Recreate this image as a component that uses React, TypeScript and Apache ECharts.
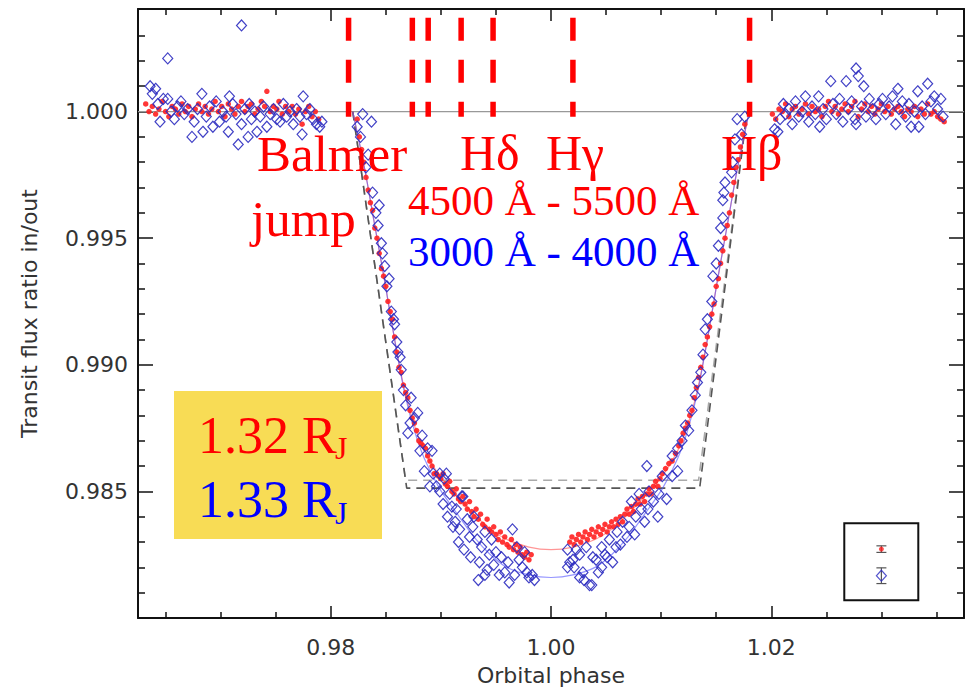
import React, { useEffect, useRef } from 'react';
import * as echarts from 'echarts';

// ---------- axes ----------
const X_MIN = 0.9625;
const X_MAX = 1.0375;
const Y_MIN = 0.98;
const Y_MAX = 1.00405;
const xMajorTicks = [0.98, 1.0, 1.02];
const xMinorTicks = [0.965, 0.97, 0.975, 0.985, 0.99, 0.995, 1.005, 1.01, 1.015, 1.025, 1.03, 1.035];
const yMajorTicks = [0.985, 0.99, 0.995, 1.0];
const yMinorTicks = [0.981, 0.982, 0.983, 0.984, 0.986, 0.987, 0.988, 0.989, 0.991, 0.992, 0.993, 0.994, 0.996, 0.997, 0.998, 0.999, 1.001, 1.002, 1.003];

// ---------- red data (4500-5500 A) ----------
const redLeft: [number, number][] = [
  [0.9632, 1.0003], [0.9635, 1.0000], [0.9638, 1.0002], [0.9641, 0.9999], [0.9644, 1.0001], [0.9647, 1.0004],
  [0.9650, 1.0000], [0.9653, 0.9998], [0.9656, 1.0002], [0.9659, 1.0001], [0.9662, 0.9999], [0.9665, 1.0003],
  [0.9668, 1.0000], [0.9671, 1.0002], [0.9674, 0.9998], [0.9677, 1.0001], [0.9680, 1.0003], [0.9683, 1.0000],
  [0.9686, 1.0002], [0.9689, 0.9999], [0.9692, 1.0001], [0.9695, 1.0004], [0.9698, 1.0000], [0.9701, 1.0002],
  [0.9704, 0.9998], [0.9707, 1.0003], [0.9710, 1.0001], [0.9713, 0.9999], [0.9716, 1.0002], [0.9719, 1.0004],
  [0.9722, 1.0000], [0.9725, 1.0002], [0.9728, 1.0003], [0.9731, 0.9999], [0.9734, 1.0001], [0.9737, 1.0004],
  [0.9740, 1.0002], [0.9742, 1.0008], [0.9745, 1.0000], [0.9748, 1.0002], [0.9751, 1.0001], [0.9753, 1.0004],
  [0.9756, 0.9999], [0.9759, 1.0002], [0.9762, 1.0000], [0.9765, 1.0002], [0.9768, 0.9999], [0.9771, 1.0001],
  [0.9774, 0.9995], [0.9777, 1.0000], [0.9780, 1.0002], [0.9783, 0.9998], [0.9786, 1.0000], [0.9789, 0.9997],
];
const redIngress: [number, number][] = [
  [0.9824, 0.9997], [0.9826, 0.9990], [0.9828, 0.9985], [0.9830, 0.9980], [0.9832, 0.9974], [0.9834, 0.9969],
  [0.9836, 0.9964], [0.9838, 0.9961], [0.9840, 0.9954], [0.9842, 0.9950], [0.9844, 0.9944], [0.9846, 0.9938],
  [0.9848, 0.9935], [0.9850, 0.9931], [0.9852, 0.9925], [0.9854, 0.9921], [0.9856, 0.9918], [0.9858, 0.9911],
  [0.9860, 0.9905], [0.9862, 0.9899], [0.9864, 0.9897], [0.9866, 0.9892], [0.9868, 0.9889], [0.9870, 0.9887],
  [0.9872, 0.9882], [0.9874, 0.9879], [0.9876, 0.9877], [0.9878, 0.9874], [0.9880, 0.9870], [0.9882, 0.9869],
  [0.9884, 0.9868], [0.9886, 0.9867], [0.9888, 0.9864], [0.9890, 0.9862], [0.9892, 0.9860], [0.9894, 0.9857],
  [0.9896, 0.9857], [0.9898, 0.9856],
];
const redBottomLeft: [number, number][] = [
  [0.9900, 0.9855], [0.9902, 0.9857], [0.9904, 0.9853], [0.9906, 0.9852], [0.9908, 0.9854], [0.9910, 0.9850],
  [0.9912, 0.9849], [0.9914, 0.9851], [0.9916, 0.9847], [0.9918, 0.9846], [0.9920, 0.9848], [0.9922, 0.9845],
  [0.9924, 0.9843], [0.9926, 0.9846], [0.9928, 0.9842], [0.9930, 0.9840], [0.9932, 0.9843], [0.9934, 0.9839],
  [0.9936, 0.9841], [0.9938, 0.9837], [0.9940, 0.9836], [0.9942, 0.9839], [0.9944, 0.9835], [0.9946, 0.9834],
  [0.9948, 0.9836], [0.9950, 0.9833], [0.9952, 0.9831], [0.9954, 0.9834], [0.9956, 0.9830], [0.9958, 0.9832],
  [0.9960, 0.9829], [0.9962, 0.9828], [0.9964, 0.9831], [0.9966, 0.9827], [0.9968, 0.9829], [0.9970, 0.9826],
  [0.9972, 0.9828], [0.9974, 0.9825], [0.9976, 0.9824], [0.9978, 0.9826], [0.9980, 0.9823], [0.9982, 0.9825],
];
const redBottomRight: [number, number][] = [
  [1.0017, 0.9830], [1.0019, 0.9832], [1.0021, 0.9829], [1.0023, 0.9831], [1.0025, 0.9833], [1.0027, 0.9830],
  [1.0029, 0.9832], [1.0031, 0.9834], [1.0033, 0.9831], [1.0035, 0.9833], [1.0037, 0.9835], [1.0039, 0.9832],
  [1.0041, 0.9834], [1.0043, 0.9836], [1.0045, 0.9833], [1.0047, 0.9835], [1.0049, 0.9837], [1.0051, 0.9834],
  [1.0053, 0.9836], [1.0055, 0.9838], [1.0057, 0.9836], [1.0059, 0.9839], [1.0061, 0.9837], [1.0063, 0.9840],
  [1.0065, 0.9838], [1.0067, 0.9841], [1.0069, 0.9843], [1.0071, 0.9841], [1.0073, 0.9844], [1.0075, 0.9842],
  [1.0077, 0.9845], [1.0079, 0.9847], [1.0081, 0.9845], [1.0083, 0.9848], [1.0085, 0.9846], [1.0087, 0.9849],
  [1.0089, 0.9851], [1.0091, 0.9849], [1.0093, 0.9852], [1.0095, 0.9854], [1.0097, 0.9852], [1.0099, 0.9855],
];
const redEgress: [number, number][] = [
  [1.0101, 0.9857], [1.0104, 0.9859], [1.0107, 0.9861], [1.0110, 0.9862], [1.0113, 0.9865], [1.0116, 0.9868],
  [1.0118, 0.9870], [1.0120, 0.9873], [1.0122, 0.9875], [1.0124, 0.9877], [1.0126, 0.9880], [1.0128, 0.9882],
  [1.0130, 0.9887], [1.0132, 0.9891], [1.0134, 0.9895], [1.0136, 0.9899], [1.0138, 0.9903], [1.0140, 0.9908],
  [1.0142, 0.9911], [1.0144, 0.9915], [1.0146, 0.9920], [1.0148, 0.9924], [1.0150, 0.9931], [1.0152, 0.9934],
  [1.0154, 0.9940], [1.0156, 0.9945], [1.0158, 0.9950], [1.0160, 0.9955], [1.0162, 0.9960], [1.0164, 0.9967],
  [1.0166, 0.9972], [1.0168, 0.9978], [1.0170, 0.9981], [1.0172, 0.9986], [1.0174, 0.9991], [1.0176, 0.9995],
];
const redRight: [number, number][] = [
  [1.0201, 0.9999], [1.0204, 0.9997], [1.0207, 1.0001], [1.0210, 1.0000], [1.0213, 1.0003], [1.0216, 0.9998],
  [1.0219, 1.0001], [1.0222, 1.0002], [1.0225, 0.9999], [1.0228, 1.0001], [1.0231, 1.0003], [1.0234, 0.9999],
  [1.0237, 1.0002], [1.0240, 1.0000], [1.0243, 1.0001], [1.0246, 0.9998], [1.0249, 1.0002], [1.0252, 1.0004],
  [1.0255, 1.0000], [1.0258, 1.0002], [1.0261, 0.9999], [1.0264, 1.0001], [1.0267, 1.0003], [1.0270, 1.0000],
  [1.0273, 1.0002], [1.0276, 1.0004], [1.0279, 0.9998], [1.0282, 1.0001], [1.0285, 1.0003], [1.0288, 1.0000],
  [1.0291, 1.0002], [1.0294, 0.9999], [1.0297, 1.0001], [1.0300, 1.0003], [1.0303, 1.0000], [1.0306, 1.0002],
  [1.0309, 0.9999], [1.0312, 1.0001], [1.0315, 1.0002], [1.0318, 1.0000], [1.0321, 0.9998], [1.0324, 1.0001],
  [1.0327, 1.0000], [1.0330, 1.0002], [1.0333, 0.9998], [1.0336, 1.0001], [1.0339, 0.9999], [1.0342, 1.0003],
  [1.0345, 0.9999], [1.0348, 1.0000], [1.0351, 0.9998], [1.0354, 0.9997], [1.0357, 0.9996],
];

// ---------- blue data (3000-4000 A) ----------
const blueLeft: [number, number][] = [
  [0.9636, 1.0010], [0.9638, 1.0007], [0.9641, 1.0009], [0.9643, 1.0003], [0.9645, 0.9996], [0.9648, 1.0005],
  [0.9652, 1.0021], [0.9652, 1.0005], [0.9655, 1.0000], [0.9658, 0.9997], [0.9661, 1.0002], [0.9664, 1.0004],
  [0.9667, 0.9999], [0.9670, 1.0001], [0.9674, 0.9990], [0.9676, 0.9996], [0.9679, 1.0001], [0.9683, 1.0007],
  [0.9684, 0.9992], [0.9687, 0.9998], [0.9690, 1.0002], [0.9693, 0.9994], [0.9696, 1.0004], [0.9699, 0.9996],
  [0.9702, 1.0000], [0.9705, 0.9998], [0.9707, 0.9992], [0.9708, 1.0006], [0.9711, 1.0003], [0.9714, 0.9999],
  [0.9716, 0.9987], [0.9719, 1.0034], [0.9719, 0.9995], [0.9722, 1.0001], [0.9725, 0.9990], [0.9726, 1.0003],
  [0.9728, 0.9997], [0.9731, 1.0000], [0.9733, 0.9992], [0.9736, 0.9998], [0.9739, 1.0002], [0.9742, 0.9994],
  [0.9745, 0.9999], [0.9748, 1.0001], [0.9751, 0.9997], [0.9754, 0.9996], [0.9757, 1.0003], [0.9760, 0.9998],
  [0.9763, 1.0000], [0.9766, 0.9995], [0.9769, 1.0001], [0.9772, 0.9998], [0.9774, 0.9991], [0.9775, 1.0006],
  [0.9778, 0.9999], [0.9781, 1.0001], [0.9784, 0.9997], [0.9787, 0.9995], [0.9790, 0.9994], [0.9792, 0.9996],
];
const blueIngress: [number, number][] = [
  [0.9824, 0.9994], [0.9829, 0.9999], [0.9837, 0.9996], [0.9827, 0.9990], [0.9832, 0.9978], [0.9834, 0.9983],
  [0.9838, 0.9968], [0.9844, 0.9963], [0.9841, 0.9960], [0.9843, 0.9955], [0.9846, 0.9948], [0.9847, 0.9944],
  [0.9849, 0.9939], [0.9853, 0.9934], [0.9851, 0.9931], [0.9855, 0.9921], [0.9858, 0.9916], [0.9857, 0.9918],
  [0.9860, 0.9909], [0.9861, 0.9905], [0.9863, 0.9903], [0.9864, 0.9898], [0.9866, 0.9890], [0.9868, 0.9884],
  [0.9873, 0.9887], [0.9876, 0.9879], [0.9879, 0.9881], [0.9872, 0.9877], [0.9870, 0.9873], [0.9883, 0.9872],
  [0.9888, 0.9867], [0.9881, 0.9866], [0.9892, 0.9866], [0.9885, 0.9858], [0.9893, 0.9857], [0.9890, 0.9852],
  [0.9899, 0.9857], [0.9905, 0.9857], [0.9899, 0.9850], [0.9908, 0.9849], [0.9919, 0.9848],
];
const blueBottomLeft: [number, number][] = [
  [0.9896, 0.9852], [0.9903, 0.9855], [0.9902, 0.9845], [0.9910, 0.9844], [0.9914, 0.9843], [0.9920, 0.9848],
  [0.9911, 0.9836], [0.9917, 0.9835], [0.9924, 0.9839], [0.9926, 0.9832], [0.9929, 0.9836], [0.9933, 0.9831],
  [0.9937, 0.9828], [0.9944, 0.9825], [0.9946, 0.9831], [0.9950, 0.9826], [0.9953, 0.9817], [0.9958, 0.9818],
  [0.9965, 0.9835], [0.9967, 0.9817], [0.9969, 0.9828], [0.9971, 0.9823], [0.9974, 0.9820], [0.9978, 0.9818],
  [0.9980, 0.9816], [0.9930, 0.9840], [0.9940, 0.9834], [0.9935, 0.9822], [0.9942, 0.9819], [0.9948, 0.9821],
  [0.9955, 0.9824], [0.9961, 0.9822], [0.9962, 0.9814], [0.9976, 0.9826], [0.9983, 0.9817], [0.9985, 0.9815],
  [0.9921, 0.9827], [0.9927, 0.9824], [0.9916, 0.9830], [0.9906, 0.9840], [0.9913, 0.9838], [0.9934, 0.9815],
  [0.9940, 0.9817],
];
const blueBottomRight: [number, number][] = [
  [1.0015, 0.9827], [1.0017, 0.9822], [1.0015, 0.9820], [1.0021, 0.9820], [1.0023, 0.9827], [1.0026, 0.9825],
  [1.0026, 0.9816], [1.0029, 0.9818], [1.0030, 0.9815], [1.0032, 0.9828], [1.0035, 0.9813], [1.0037, 0.9813],
  [1.0038, 0.9824], [1.0041, 0.9823], [1.0046, 0.9820], [1.0046, 0.9828], [1.0049, 0.9825], [1.0051, 0.9824],
  [1.0053, 0.9831], [1.0059, 0.9828], [1.0060, 0.9834], [1.0065, 0.9838], [1.0069, 0.9832], [1.0073, 0.9846],
  [1.0076, 0.9833], [1.0077, 0.9840], [1.0080, 0.9849], [1.0085, 0.9838], [1.0087, 0.9860], [1.0088, 0.9843],
  [1.0089, 0.9850], [1.0097, 0.9840], [1.0098, 0.9849], [1.0101, 0.9856], [1.0105, 0.9847], [1.0110, 0.9856],
  [1.0115, 0.9858], [1.0043, 0.9818], [1.0056, 0.9822], [1.0063, 0.9829], [1.0071, 0.9836], [1.0082, 0.9843],
  [1.0093, 0.9846], [1.0020, 0.9823],
];
const blueEgress: [number, number][] = [
  [1.0110, 0.9864], [1.0115, 0.9867], [1.0119, 0.9870], [1.0122, 0.9876], [1.0125, 0.9874], [1.0128, 0.9882],
  [1.0131, 0.9888], [1.0133, 0.9893], [1.0136, 0.9897], [1.0138, 0.9904], [1.0140, 0.9914], [1.0142, 0.9918],
  [1.0146, 0.9925], [1.0147, 0.9935], [1.0150, 0.9940], [1.0152, 0.9947], [1.0154, 0.9954], [1.0156, 0.9958],
  [1.0156, 0.9965], [1.0157, 0.9968], [1.0158, 0.9972], [1.0164, 0.9976], [1.0165, 0.9980], [1.0167, 0.9989],
  [1.0169, 0.9997], [1.0173, 0.9991], [1.0176, 0.9998],
];
const blueRight: [number, number][] = [
  [1.0203, 0.9993], [1.0206, 0.9992], [1.0208, 0.9997], [1.0211, 1.0003], [1.0213, 0.9999], [1.0216, 1.0001],
  [1.0219, 0.9995], [1.0222, 1.0004], [1.0225, 0.9998], [1.0228, 1.0000], [1.0231, 1.0006], [1.0234, 0.9996],
  [1.0237, 1.0002], [1.0240, 0.9999], [1.0243, 1.0006], [1.0244, 0.9994], [1.0247, 1.0001], [1.0250, 0.9997],
  [1.0254, 1.0012], [1.0256, 1.0003], [1.0259, 0.9999], [1.0262, 1.0005], [1.0265, 0.9996], [1.0268, 1.0012],
  [1.0270, 1.0001], [1.0273, 1.0004], [1.0276, 0.9997], [1.0277, 1.0017], [1.0279, 1.0014], [1.0277, 0.9995],
  [1.0282, 1.0002], [1.0284, 1.0010], [1.0286, 0.9998], [1.0289, 1.0005], [1.0292, 1.0001], [1.0295, 0.9997],
  [1.0298, 1.0003], [1.0301, 1.0005], [1.0304, 0.9999], [1.0307, 1.0002], [1.0310, 1.0006], [1.0313, 0.9995],
  [1.0315, 1.0009], [1.0316, 1.0001], [1.0319, 1.0004], [1.0322, 0.9998], [1.0325, 1.0003], [1.0327, 0.9994],
  [1.0330, 1.0000], [1.0333, 1.0008], [1.0334, 0.9994], [1.0337, 1.0002], [1.0340, 0.9999], [1.0342, 1.0011],
  [1.0345, 1.0004], [1.0348, 1.0006], [1.0351, 1.0001], [1.0354, 1.0005], [1.0356, 0.9998],
];

// ---------- fitted transit curves ----------
const fitX = [0.9820, 0.9831, 0.9840, 0.9849, 0.9858, 0.9867, 0.9876, 0.9885, 0.9899, 0.9915, 0.9930, 0.9945, 0.9960, 0.9980,
  1.0000, 1.0020, 1.0040, 1.0055, 1.0070, 1.0085, 1.0101, 1.0115, 1.0124, 1.0133, 1.0142, 1.0151, 1.0160, 1.0169, 1.0180];
const redFitY = [1.0000, 0.9977, 0.9955, 0.9933, 0.9910, 0.9890, 0.9876, 0.9866, 0.9856, 0.9848, 0.9841, 0.9835, 0.9831, 0.9828,
  0.9827, 0.9828, 0.9831, 0.9835, 0.9841, 0.9848, 0.9856, 0.9866, 0.9876, 0.9890, 0.9910, 0.9933, 0.9955, 0.9977, 1.0000];
const blueFitY = [1.0000, 0.9977, 0.9955, 0.9933, 0.9910, 0.9889, 0.9874, 0.9863, 0.9851, 0.9841, 0.9832, 0.9825, 0.9820, 0.9817,
  0.9816, 0.9817, 0.9820, 0.9825, 0.9832, 0.9841, 0.9851, 0.9863, 0.9874, 0.9889, 0.9910, 0.9933, 0.9955, 0.9977, 1.0000];

// ---------- opaque-planet models (dashed) ----------
const modelDarkX = [0.9820, 0.9869, 1.0135, 1.0178];
const modelDarkY = [1.0000, 0.98513, 0.98513, 1.0000];
const modelLightX = [0.9820, 0.9868, 1.0134, 1.0178];
const modelLightY = [1.0000, 0.98544, 0.98544, 1.0000];
const baselineY = 1.0;

// ---------- line markers (Balmer jump, H lines) ----------
const markerX = [0.98162, 0.98741, 0.98885, 0.99184, 0.99474, 1.00199, 1.01803];
const markerTop = 1.0037;
const markerBottom = 0.99979;

// ---------- inset: typical error bars ----------
const insetBox = [1.02663, 0.9807, 1.03335, 0.98374];
const errX = [1.03, 1.03];
const errY = [0.98272, 0.98167];
const errSize = [0.00013, 0.00031];

const zip = (xs: number[], ys: number[]) => xs.map((x, i) => [x, ys[i]]);

const AXIS_COLOR = '#111';
const LABEL_FONT = 'DejaVu Sans';
const SERIF = '"Liberation Serif", "DejaVu Serif", serif';
const BLUE_EDGE = '#2c2cc0';

function tickAxis(kind: 'x' | 'y', position: string, ticks: number[], length: number, line: boolean, labels: boolean) {
  const isX = kind === 'x';
  const a: any = {
    type: 'value',
    position,
    min: isX ? X_MIN : Y_MIN,
    max: isX ? X_MAX : Y_MAX,
    splitLine: { show: false },
    axisLine: { show: line, onZero: false, lineStyle: { color: AXIS_COLOR, width: 2 } },
    axisTick: { show: true, inside: true, length, customValues: ticks, lineStyle: { color: AXIS_COLOR, width: 1.5 } },
    axisLabel: { show: false },
  };
  if (labels) {
    a.axisLabel = {
      show: true,
      customValues: ticks,
      formatter: (v: number) => (isX ? v.toFixed(2) : v.toFixed(3)),
      margin: isX ? 18 : 10,
      fontSize: 22,
      fontFamily: LABEL_FONT,
      color: '#333',
    };
    a.name = isX ? 'Orbital phase' : 'Transit flux ratio in/out';
    a.nameLocation = 'middle';
    a.nameGap = isX ? 46 : 98;
    a.nameTextStyle = { fontSize: 22, fontFamily: LABEL_FONT, color: '#333' };
  }
  return a;
}

export default function App() {
  const ref = useRef<HTMLDivElement>(null);
  useEffect(() => {
    if (!ref.current) return;
    const chart = echarts.init(ref.current, null, { renderer: 'svg' });

    const redData = [...redLeft, ...redIngress, ...redBottomLeft, ...redBottomRight, ...redEgress, ...redRight];
    const blueData = [...blueLeft, ...blueIngress, ...blueBottomLeft, ...blueBottomRight, ...blueEgress, ...blueRight];

    const markerSeries = markerX.map((x) => ({
      type: 'line',
      data: [[x, markerTop], [x, markerBottom]],
      symbol: 'none',
      lineStyle: { color: '#ff0000', width: 5.5, type: [23, 19], cap: 'butt' },
      z: 6,
      silent: true,
    }));

    const text = (x: number, y: number, t: string, color: string, size: number) => ({
      type: 'text', z: 60, x, y,
      style: { text: t, fill: color, font: `${size}px ${SERIF}`, verticalAlign: 'middle', align: 'left' },
    });

    const option: any = {
      animation: false,
      backgroundColor: '#ffffff',
      grid: { left: 138, right: 10, top: 9, bottom: 74, containLabel: false },
      xAxis: [
        tickAxis('x', 'bottom', xMajorTicks, 12, true, true),
        tickAxis('x', 'bottom', xMinorTicks, 6, false, false),
        tickAxis('x', 'top', xMajorTicks, 12, true, false),
        tickAxis('x', 'top', xMinorTicks, 6, false, false),
      ],
      yAxis: [
        tickAxis('y', 'left', yMajorTicks, 15, true, true),
        tickAxis('y', 'left', yMinorTicks, 7, false, false),
        tickAxis('y', 'right', yMajorTicks, 15, true, false),
        tickAxis('y', 'right', yMinorTicks, 7, false, false),
      ],
      series: [
        {
          type: 'line', data: [[X_MIN, baselineY], [X_MAX, baselineY]], symbol: 'none',
          lineStyle: { color: '#999', width: 1.2 }, z: 1, silent: true,
        },
        {
          type: 'line', data: zip(modelLightX, modelLightY), symbol: 'none',
          lineStyle: { color: '#aaa', width: 1.6, type: [9, 6] }, z: 1, silent: true,
        },
        {
          type: 'line', data: zip(modelDarkX, modelDarkY), symbol: 'none',
          lineStyle: { color: '#555', width: 1.6, type: [9, 6] }, z: 1, silent: true,
        },
        {
          type: 'line', data: zip(fitX, redFitY), symbol: 'none', smooth: 0.25,
          lineStyle: { color: 'rgba(255,80,80,0.6)', width: 1.2 }, z: 2, silent: true,
        },
        {
          type: 'line', data: zip(fitX, blueFitY), symbol: 'none', smooth: 0.25,
          lineStyle: { color: 'rgba(80,80,255,0.6)', width: 1.2 }, z: 2, silent: true,
        },
        {
          type: 'scatter', data: redData, symbol: 'circle', symbolSize: 5.5,
          itemStyle: { color: '#ff2020', opacity: 0.9 }, z: 3, silent: true,
        },
        {
          type: 'scatter', data: blueData, symbol: 'diamond', symbolSize: [10, 11],
          itemStyle: { color: 'rgba(0,0,0,0)', borderColor: BLUE_EDGE, borderWidth: 1.2, opacity: 0.9 }, z: 4, silent: true,
        },
        ...markerSeries,
        {
          type: 'custom', data: [insetBox], silent: true, z: 5,
          renderItem: (params: any, api: any) => {
            const p0 = api.coord([api.value(0), api.value(1)]);
            const p1 = api.coord([api.value(2), api.value(3)]);
            return {
              type: 'rect',
              shape: { x: Math.min(p0[0], p1[0]), y: Math.min(p0[1], p1[1]), width: Math.abs(p1[0] - p0[0]), height: Math.abs(p1[1] - p0[1]) },
              style: { fill: 'none', stroke: '#111', lineWidth: 2 },
            };
          },
        },
        {
          type: 'custom', data: zip(errX, errY).map((p, i) => [p[0], p[1], errSize[i]]), silent: true, z: 5,
          renderItem: (params: any, api: any) => {
            const x = api.value(0), y = api.value(1), e = api.value(2);
            const t = api.coord([x, y + e]);
            const b = api.coord([x, y - e]);
            const st = { stroke: '#555', lineWidth: 1.2 };
            return {
              type: 'group',
              children: [
                { type: 'line', shape: { x1: t[0], y1: t[1], x2: b[0], y2: b[1] }, style: st },
                { type: 'line', shape: { x1: t[0] - 5, y1: t[1], x2: t[0] + 5, y2: t[1] }, style: st },
                { type: 'line', shape: { x1: b[0] - 5, y1: b[1], x2: b[0] + 5, y2: b[1] }, style: st },
              ],
            };
          },
        },
        {
          type: 'scatter', data: [[errX[0], errY[0]]], symbol: 'circle', symbolSize: 5,
          itemStyle: { color: '#ff2020' }, z: 6, silent: true,
        },
        {
          type: 'scatter', data: [[errX[1], errY[1]]], symbol: 'diamond', symbolSize: [10, 11],
          itemStyle: { color: 'rgba(0,0,0,0)', borderColor: BLUE_EDGE, borderWidth: 1.2 }, z: 6, silent: true,
        },
      ],
      graphic: [
        { type: 'rect', z: 50, shape: { x: 174, y: 391, width: 208, height: 148 }, style: { fill: '#f8dc55' } },
        text(198, 435, '1.32 R', '#ff0000', 52),
        text(335, 448, 'J', '#ff0000', 32),
        text(198, 499, '1.33 R', '#0000ff', 52),
        text(335, 513, 'J', '#0000ff', 32),
        text(257, 154, 'Balmer', '#ff0000', 51),
        text(251, 219, 'jump', '#ff0000', 51),
        text(460, 153, 'Hδ', '#ff0000', 50),
        text(546, 153, 'Hγ', '#ff0000', 50),
        text(721, 153, 'Hβ', '#ff0000', 50),
        text(408, 200, '4500 Å - 5500 Å', '#ff0000', 43),
        text(408, 251, '3000 Å - 4000 Å', '#0000ff', 43),
      ],
    };
    chart.setOption(option);
    return () => chart.dispose();
  }, []);
  return (
    <div
      ref={ref}
      style={{ position: 'absolute', left: 0, top: 0, width: 974, height: 692, background: '#fff' }}
    />
  );
}
